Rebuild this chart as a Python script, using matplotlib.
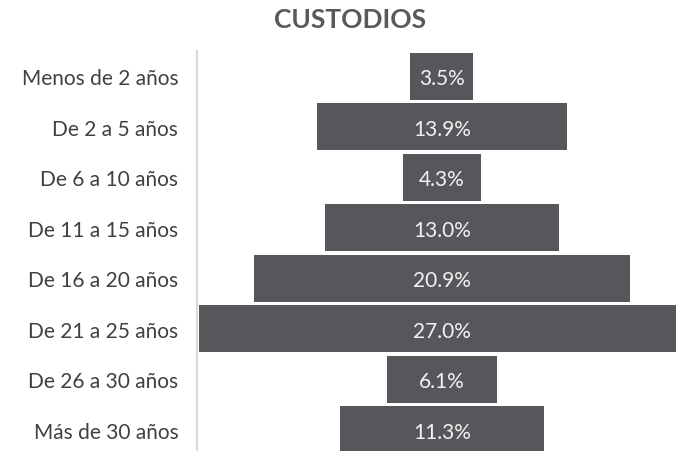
import matplotlib
matplotlib.use("Agg")
import matplotlib.pyplot as plt

categories = ["Menos de 2 años", "De 2 a 5 años", "De 6 a 10 años", "De 11 a 15 años",
              "De 16 a 20 años", "De 21 a 25 años", "De 26 a 30 años", "Más de 30 años"]
values = [3.5, 13.9, 4.3, 13.0, 20.9, 27.0, 6.1, 11.3]
title = "CUSTODIOS"

plt.rcParams['font.family'] = ['Lato', 'DejaVu Sans']

fig = plt.figure(figsize=(6.76, 4.52), dpi=100)
ax = fig.add_axes([197/676, -4/452, 1 - 197/676, 404/452])

y = list(range(len(categories)))
lefts = [-v / 2 for v in values]
bars = ax.barh(y, values, left=lefts, height=0.93, color="#57575B", edgecolor="none")
for yi, v in zip(y, values):
    ax.text(0, yi, f"{v:.1f}%", ha="center", va="center_baseline", color="#F2F2F2", fontsize=15)

ax.set_xlim(-13.6, 13.0)
ax.set_ylim(len(categories) - 0.5, -0.5)
ax.set_yticks(y)
ax.set_yticklabels(categories, fontsize=15, color="#404040")
ax.tick_params(axis="y", length=0, pad=13.5)
ax.set_xticks([])
for s in ["top", "right", "bottom"]:
    ax.spines[s].set_visible(False)
ax.spines["left"].set_color("#D9D9D9")
ax.spines["left"].set_linewidth(1.5)

fig.text(350/676, 1 - 28.3/452, title, ha="center", va="baseline", fontsize=19,
         fontweight="bold", color="#595959")

fig.savefig("out.png", dpi=100)
